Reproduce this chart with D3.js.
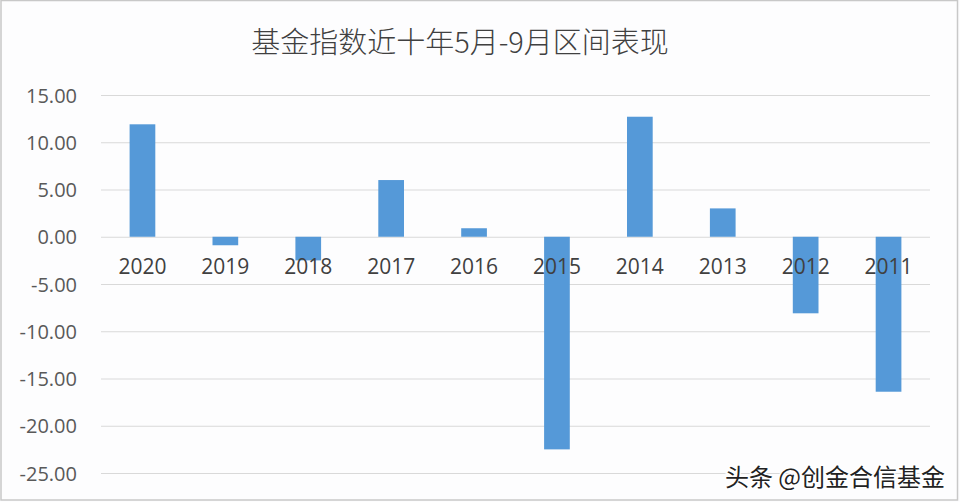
<!DOCTYPE html>
<html>
<head>
<meta charset="utf-8">
<script src="https://cdn.jsdelivr.net/npm/d3@7/dist/d3.min.js"></script>
<style>
html,body{margin:0;padding:0;background:#fff;}
svg{display:block;}
</style>
</head>
<body>
<script>
const title = "基金指数近十年5月-9月区间表现";
const categories = ["2020","2019","2018","2017","2016","2015","2014","2013","2012","2011"];
const values = [11.9, -0.9, -2.5, 6.0, 0.9, -22.5, 12.7, 3.0, -8.1, -16.4];
const yTicks = [15, 10, 5, 0, -5, -10, -15, -20, -25];
const watermark = "头条 @创金合信基金";

const W = 960, H = 502;
const svg = d3.select("body").append("svg").attr("width", W).attr("height", H);

svg.append("rect").attr("x", 0).attr("y", 0).attr("width", W).attr("height", H).attr("fill", "#fdfdfe");
svg.append("rect").attr("x", 1).attr("y", 0.5).attr("width", 956.5).attr("height", 499.5)
  .attr("fill", "none").attr("stroke", "#c8c8c8").attr("stroke-width", 1.5);

const x = d3.scaleBand().domain(categories).range([101, 930]).paddingInner(0.69).paddingOuter(0.345);
const y = d3.scaleLinear().domain([-25, 15]).range([473, 95]);

// gridlines
const fmt = d => d3.format(".2f")(d).replace("\u2212", "-");
const yAxis = d3.axisLeft(y).tickValues(yTicks).tickSize(-(930 - 101)).tickPadding(24).tickFormat(fmt);
const gy = svg.append("g").attr("transform", "translate(101,0)").call(yAxis);
gy.select(".domain").remove();
gy.selectAll(".tick line").attr("stroke", "#d9d9d9").attr("stroke-width", 1.2);
gy.selectAll(".tick text").attr("fill", "#595959").style("font-family", "'Open Sans', 'Noto Sans', sans-serif")
  .style("font-size", "20px").attr("dy", "0.35em");

// bars
svg.append("g").selectAll("rect").data(values).join("rect")
  .attr("x", (d, i) => x(categories[i]))
  .attr("width", x.bandwidth())
  .attr("y", d => y(Math.max(0, d)))
  .attr("height", d => Math.abs(y(d) - y(0)))
  .attr("fill", "#5599d8");

// category labels (at zero line, drawn over bars)
const xAxis = d3.axisBottom(x).tickSize(0).tickPadding(22);
const gx = svg.append("g").attr("transform", `translate(0,${y(0)})`).call(xAxis);
gx.select(".domain").remove();
gx.selectAll(".tick text").attr("fill", "#404040").style("font-family", "'Open Sans', 'Noto Sans', sans-serif")
  .style("font-size", "21px").attr("dy", "0.71em");

// title
svg.append("text").attr("x", 460).attr("y", 53).attr("text-anchor", "middle")
  .attr("fill", "#404040").style("font-family", "'Noto Sans CJK SC', sans-serif")
  .style("font-weight", 300).style("font-size", "29px").text(title);

// watermark
svg.append("text").attr("x", 945).attr("y", 486).attr("text-anchor", "end")
  .attr("fill", "#222").attr("stroke", "#fff").attr("stroke-width", 3).attr("paint-order", "stroke")
  .style("font-family", "'Noto Sans CJK SC', sans-serif").style("font-size", "24px").text(watermark);
</script>
</body>
</html>
